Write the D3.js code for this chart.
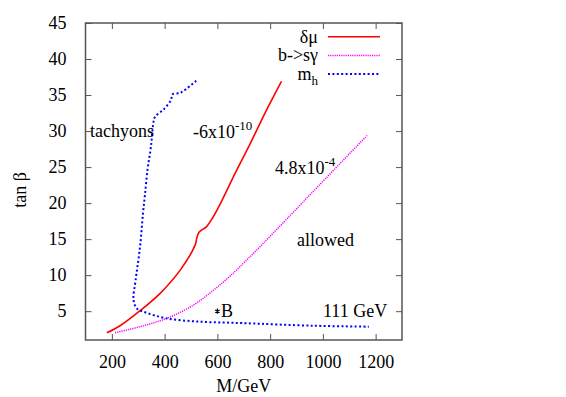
<!DOCTYPE html>
<html>
<head>
<meta charset="utf-8">
<script src="https://cdn.jsdelivr.net/npm/d3@7"></script>
<style>
  body { margin: 0; background: #fff; }
</style>
</head>
<body>
<div id="graph"></div>
<script>
'use strict';

// tick values
const xTicks = [200, 400, 600, 800, 1000, 1200];
const yTicks = [5, 10, 15, 20, 25, 30, 35, 40, 45];

// delta mu = -6x10^-10 contour  [M, tan beta]
const deltaMu = [
  [181, 2.0], [231, 2.98], [307, 5.07], [383, 7.48], [459, 10.7], [516, 14.2],
  [522, 15.15], [531, 15.98], [558, 16.7], [581, 17.9], [611, 19.9], [668, 24.2],
  [725, 28.3], [782, 32.6], [843, 36.9]
];

// b -> s gamma = 4.8x10^-4 contour
const bsGamma = [
  [212, 2.0], [307, 2.85], [408, 4.0], [510, 5.86], [586, 7.94], [649, 9.9],
  [725, 12.6], [800, 15.4], [900, 19.2], [1010, 23.4], [1168, 29.4]
];

// m_h = 111 GeV contour
const mHiggs = [
  [520, 37.0], [484, 35.9], [459, 35.3], [430, 35.1], [424, 34.3], [396, 33.0],
  [364, 32.0], [358, 31.3], [348, 27.8], [335, 24.6], [325, 21.0], [318, 18.6],
  [307, 14.0], [290, 9.3], [282, 6.6], [294, 5.4], [318, 4.95], [408, 4.0],
  [535, 3.54], [649, 3.4], [712, 3.32], [965, 2.98], [1174, 2.85]
];

// benchmark point B
const pointB = [600, 5.0];

const FONT = "'Liberation Serif', 'DejaVu Serif', serif";

// dimensions and margins
const W = 566, H = 397;
const margin = {top: 23, right: 164, bottom: 57, left: 85.5};
const width = W - margin.left - margin.right, height = H - margin.top - margin.bottom;

const svg = d3.select("#graph")
  .append("svg")
  .attr("width", W)
  .attr("height", H)
  .attr("font-family", FONT)
  .style("font-family", FONT);

const xScale = d3.scaleLinear().domain([100, 1300]).range([0, width]);
const yScale = d3.scaleLinear().domain([1, 45]).range([height, 0]);

const graph = svg.append("g")
  .attr("transform", `translate(${margin.left},${margin.top})`);

// axes (ticks pointing inward, mirrored on top and right)
const axisColor = "#555";
function styleAxis(g) {
  g.attr("font-family", FONT).attr("font-size", null);
  g.select(".domain").remove();
  g.selectAll(".tick line").attr("stroke", axisColor).attr("stroke-width", 1);
  g.selectAll(".tick text").attr("fill", "#000").style("font-family", FONT).style("font-size", "18px");
}

graph.append("g")
  .attr("transform", `translate(0,${height})`)
  .call(d3.axisBottom(xScale).tickValues(xTicks).tickFormat(d3.format("d"))
    .tickSizeInner(-6).tickPadding(15))
  .call(styleAxis);

graph.append("g")
  .call(d3.axisTop(xScale).tickValues(xTicks).tickSizeInner(-6).tickFormat(""))
  .call(styleAxis);

graph.append("g")
  .call(d3.axisLeft(yScale).tickValues(yTicks).tickSizeInner(-6).tickPadding(19))
  .call(styleAxis);

graph.append("g")
  .attr("transform", `translate(${width},0)`)
  .call(d3.axisRight(yScale).tickValues(yTicks).tickSizeInner(-6).tickFormat(""))
  .call(styleAxis);

graph.append("rect")
  .attr("width", width)
  .attr("height", height)
  .attr("fill", "none")
  .attr("stroke", axisColor)
  .attr("stroke-width", 1.5);

// curves
const line = d3.line()
  .x(d => xScale(d[0]))
  .y(d => yScale(d[1]))
  .curve(d3.curveCatmullRom);

const series = [
  {name: "δμ", data: deltaMu, color: "#ff0000", width: 1.6, dash: null},
  {name: "b->sγ", data: bsGamma, color: "#ff00ff", width: 1.5, dash: "1.2,1"},
  {name: "m", data: mHiggs, color: "#0000ff", width: 2, dash: "2,2.4"}
];

series.forEach(s => {
  graph.append("path")
    .datum(s.data)
    .attr("d", line)
    .attr("fill", "none")
    .attr("stroke", s.color)
    .attr("stroke-width", s.width)
    .attr("stroke-dasharray", s.dash);
});

// point B
graph.append("path")
  .attr("d", d3.symbol(d3.symbolAsterisk, 18)())
  .attr("transform", `translate(${xScale(pointB[0])},${yScale(pointB[1])})`)
  .attr("stroke", "#000")
  .attr("stroke-width", 1.2);

// legend
const legend = svg.append("g");
series.forEach((s, i) => {
  const y = 36.7 + i * 18.7;
  const t = legend.append("text")
    .attr("x", 318)
    .attr("y", y + 6)
    .attr("text-anchor", "end")
    .style("font-size", "18px");
  if (s.name === "m") {
    t.append("tspan").text("m");
    t.append("tspan").attr("dy", 5).style("font-size", "13px").text("h");
  } else {
    t.text(s.name);
  }
  legend.append("line")
    .attr("x1", 328).attr("x2", 380)
    .attr("y1", y).attr("y2", y)
    .attr("stroke", s.color)
    .attr("stroke-width", s.width)
    .attr("stroke-dasharray", s.dash);
});

// annotations
function label(x, y, txt, sup) {
  const t = svg.append("text").attr("x", x).attr("y", y).style("font-size", "18px");
  t.append("tspan").text(txt);
  if (sup) t.append("tspan").attr("dy", -8).style("font-size", "13px").text(sup);
  return t;
}
label(90, 137, "tachyons");
label(193, 138, "-6x10", "-10");
label(275, 174, "4.8x10", "-4");
label(297, 246, "allowed");
label(323, 317, "111 GeV");
label(221, 317, "B");

// axis titles
svg.append("text")
  .attr("x", margin.left + width / 2)
  .attr("y", 392)
  .attr("text-anchor", "middle")
  .style("font-size", "18px")
  .text("M/GeV");

svg.append("text")
  .attr("transform", "translate(26,190) rotate(-90)")
  .attr("text-anchor", "middle")
  .style("font-size", "18px")
  .text("tan β");
</script>
</body>
</html>
